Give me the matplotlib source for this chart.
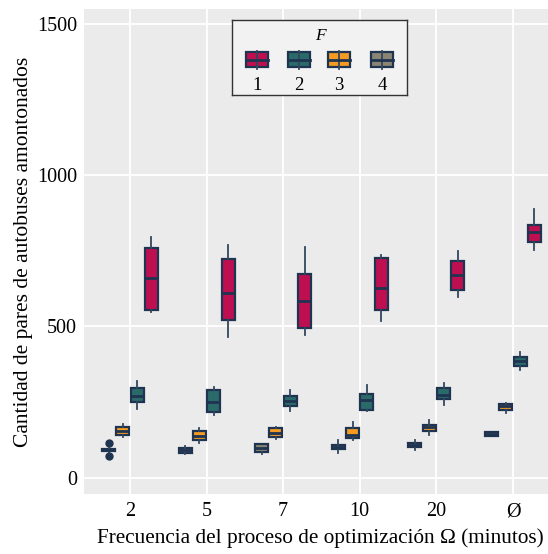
import matplotlib.pyplot as plt
from matplotlib.patches import Rectangle

plt.rcParams['font.family'] = ['Liberation Serif', 'DejaVu Serif']

categories = ['2', '5', '7', '10', '20', 'Ø']
groups = [1, 2, 3, 4]
colors = {1: '#BE0F50', 2: '#2B6A6A', 3: '#F59B22', 4: '#8A8572'}
edge = '#1F3451'

# per F: quartiles and whisker ends for each frequency
q1 = {1: [554, 520, 494, 553, 620, 778],
      2: [250, 217, 237, 225, 261, 369],
      3: [142, 124, 136, 132, 156, 225],
      4: [88, 81, 84, 95, 100, 139]}
med = {1: [659, 610, 585, 626, 670, 814],
       2: [270, 250, 254, 257, 273, 385],
       3: [155, 139, 149, 140, 167, 236],
       4: [92, 90, 97, 101, 107, 145]}
q3 = {1: [759, 722, 675, 726, 717, 835],
      2: [296, 289, 271, 278, 296, 399],
      3: [168, 155, 163, 165, 174, 242],
      4: [96, 99, 110, 107, 115, 150]}
lo = {1: [548, 464, 473, 519, 598, 753],
      2: [227, 206, 221, 221, 241, 357],
      3: [134, 116, 127, 125, 140, 213],
      4: [86, 78, 77, 83, 92, 137]}
hi = {1: [796, 770, 764, 737, 750, 888],
      2: [321, 300, 289, 305, 313, 416],
      3: [176, 163, 167, 185, 191, 247],
      4: [98, 104, 112, 124, 124, 152]}
fliers = {4: {0: [116, 72]}}

offsets = {1: 0.28, 2: 0.094, 3: -0.094, 4: -0.28}

fig = plt.figure(figsize=(5.48, 5.54), dpi=100)
ax = fig.add_axes([84 / 548, 1 - 494 / 554, 464 / 548, 485 / 554])
ax.set_facecolor('#EBEBEB')
ax.grid(True, color='white', linewidth=1.3)
ax.set_axisbelow(True)
for s in ax.spines.values():
    s.set_visible(False)

for f in groups:
    stats = []
    for i in range(len(categories)):
        stats.append(dict(med=med[f][i], q1=q1[f][i], q3=q3[f][i],
                          whislo=lo[f][i], whishi=hi[f][i],
                          fliers=fliers.get(f, {}).get(i, [])))
    pos = [i + offsets[f] for i in range(len(categories))]
    ax.bxp(stats, positions=pos, widths=0.17, patch_artist=True,
           showcaps=False, manage_ticks=False,
           boxprops=dict(facecolor=colors[f], edgecolor=edge, linewidth=1.6),
           medianprops=dict(color=edge, linewidth=2),
           whiskerprops=dict(color='#33465F', linewidth=1.3),
           flierprops=dict(marker='o', markerfacecolor=edge, markeredgecolor=edge,
                           markersize=5))

ax.set_xlim(-0.6, 5.457)
ax.set_ylim(-54, 1550)
ax.set_xticks(range(len(categories)))
ax.set_xticklabels(categories)
ax.set_yticks([0, 500, 1000, 1500])
ax.tick_params(length=0, labelsize=14.5)
ax.tick_params(axis='y', pad=5)
ax.tick_params(axis='x', pad=6)
ax.set_xlabel('Frecuencia del proceso de optimización Ω (minutos)', fontsize=15.3)
ax.set_ylabel('Cantidad de pares de autobuses amontonados', fontsize=15.5)
ax.xaxis.set_label_coords(0.51, -0.091)
ax.yaxis.set_label_coords(-0.13, 0.499)
ax.xaxis.label.set_va('center')
ax.yaxis.label.set_va('center')

# legend panel with small box glyphs
lg = fig.add_axes([232 / 548, 1 - 95 / 554, 175 / 548, 75 / 554])
lg.set_xlim(0, 175)
lg.set_ylim(75, 0)
lg.set_facecolor('#F2F2F2')
lg.set_xticks([])
lg.set_yticks([])
for s in lg.spines.values():
    s.set_color('#333333')
    s.set_linewidth(1)
lg.text(88, 16, 'F', style='italic', fontsize=12.5, ha='center', va='center')
for k, f in enumerate(groups):
    cx = [25, 67, 107, 150][k]
    lg.plot([cx, cx], [31, 49], color='#33465F', linewidth=1.3)
    lg.add_patch(Rectangle((cx - 11, 32), 22, 15, facecolor=colors[f],
                           edgecolor=edge, linewidth=1.6))
    lg.plot([cx - 11, cx + 11], [39.5, 39.5], color=edge, linewidth=2)
    lg.text(cx, 65, str(f), fontsize=13.5, ha='center', va='center')

fig.savefig('out.png', dpi=100)
